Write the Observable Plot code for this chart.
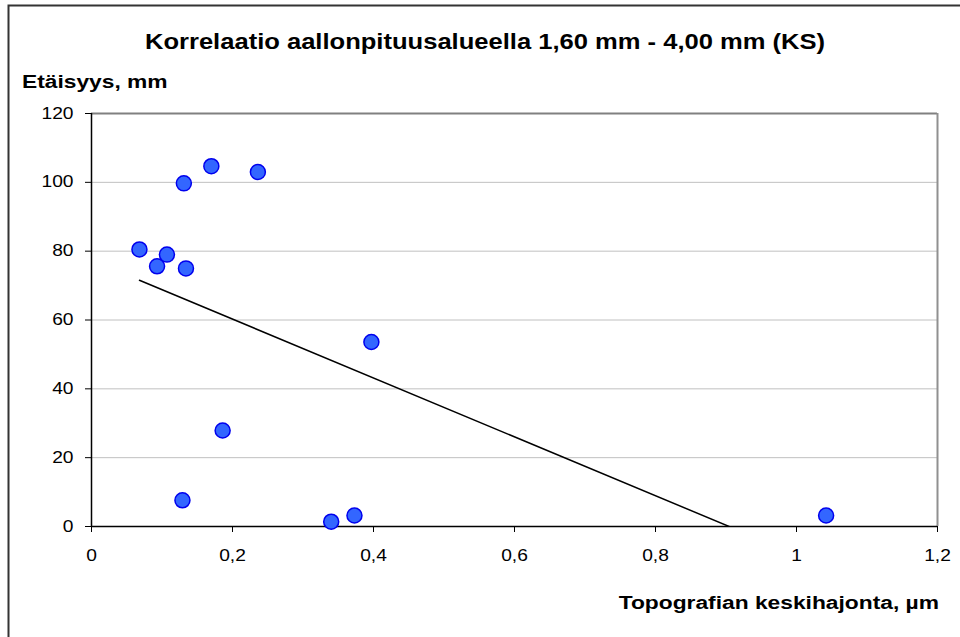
<!DOCTYPE html>
<html>
<head>
<meta charset="utf-8">
<script src="https://cdn.jsdelivr.net/npm/d3@7"></script>
<script src="https://cdn.jsdelivr.net/npm/@observablehq/plot@0.6"></script>
<style>
  html, body { margin: 0; padding: 0; background: #fff; overflow: hidden; }
  #chart { width: 960px; height: 637px; position: relative; }
</style>
</head>
<body>
<div id="chart"></div>
<script>
const title = "Korrelaatio aallonpituusalueella 1,60 mm - 4,00 mm (KS)";
const yTitle = "Etäisyys, mm";
const xTitle = "Topografian keskihajonta, µm";

const xValues = [0.068, 0.093, 0.107, 0.131, 0.134, 0.170, 0.236, 0.129, 0.186, 0.340, 0.373, 0.397, 1.042];
const yValues = [80.5, 75.6, 79.0, 99.7, 75.0, 104.7, 103.0, 7.6, 27.9, 1.4, 3.2, 53.6, 3.2];

const xTicks = [0, 0.2, 0.4, 0.6, 0.8, 1, 1.2];
const yTicks = [0, 20, 40, 60, 80, 100, 120];

const data = xValues.map((x, i) => ({x, y: yValues[i]}));
const fmt = d => String(+d.toFixed(1)).replace(".", ",");
const stretch = 1.2; // the reference text is drawn wide

const chart = Plot.plot({
  width: 960,
  height: 637,
  marginLeft: 91,
  marginRight: 23,
  marginTop: 113,
  marginBottom: 111,
  style: {fontFamily: "'Liberation Sans', Arial, sans-serif", fontSize: "16px", color: "#000", background: "#fff", overflow: "visible"},
  x: {domain: [0, 1.2]},
  y: {domain: [0, 120]},
  marks: [
    Plot.gridY(yTicks.filter(d => d > 0 && d < 120), {stroke: "#c0c0c0", strokeOpacity: 1}),
    Plot.ruleY([120], {stroke: "#808080", strokeWidth: 2}),
    Plot.ruleX([1.2], {stroke: "#909090", strokeWidth: 2}),
    Plot.axisX({ticks: xTicks, tickFormat: fmt, tickSize: 6, tickPadding: 17, label: null, fontSize: 16, stroke: "#000"}),
    Plot.axisY({ticks: yTicks, tickSize: 6, tickPadding: 12, label: null, fontSize: 16, stroke: "#000"}),
    Plot.ruleX([0], {stroke: "#000", strokeWidth: 1.5}),
    Plot.ruleY([0], {stroke: "#000", strokeWidth: 1.5}),
    Plot.linearRegressionY(data, {x: "x", y: "y", ci: 0, stroke: "#000", strokeWidth: 1.5, clip: true}),
    Plot.dot(data, {x: "x", y: "y", r: 7.5, fill: "#3366ff", stroke: "#0000ee", strokeWidth: 1.5})
  ]
});

const svg = d3.select(chart);
svg.selectAll("g[aria-label$='tick label'] text").each(function() {
  const t = d3.select(this);
  t.style("font-size", "16px");
  const tr = t.attr("transform") || "";
  t.attr("transform", tr + ` scale(${stretch},1)`);
});

svg.insert("rect", ":first-child")
  .attr("x", 8.5).attr("y", 5.5).attr("width", 1000).attr("height", 1000)
  .attr("fill", "none").attr("stroke", "#333").attr("stroke-width", 2);

function addText(str, x, y, anchor, size) {
  svg.append("text").text(str)
    .attr("transform", `translate(${x},${y}) scale(${stretch},1)`)
    .attr("text-anchor", anchor)
    .attr("font-family", "'Liberation Sans', Arial, sans-serif")
    .attr("font-weight", "bold").attr("font-size", size);
}
addText(title, 485, 49, "middle", 21.3);
addText(yTitle, 22, 88, "start", 19);
addText(xTitle, 939, 609, "end", 19);

document.getElementById("chart").appendChild(chart);
</script>
</body>
</html>
